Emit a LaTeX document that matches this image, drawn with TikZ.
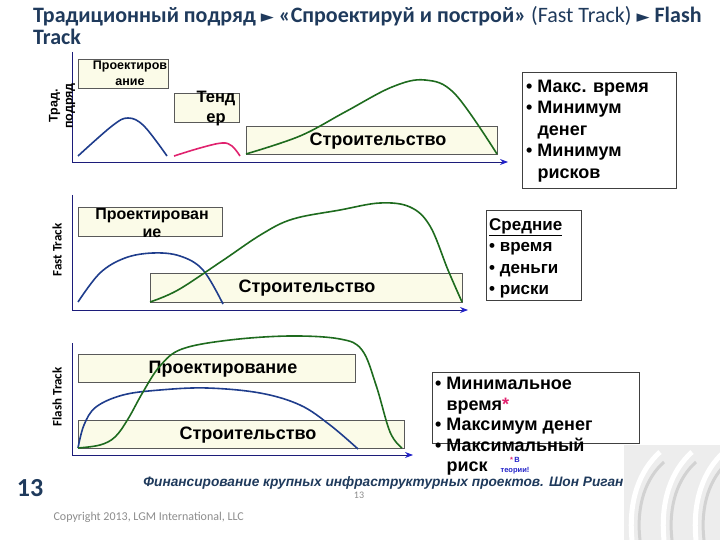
\documentclass[tikz,border=0pt]{standalone}
\usepackage{fontspec}
\setmainfont{Liberation Sans}
\newfontfamily\carlito{Carlito}
\newfontfamily\dejavu{DejaVu Sans}
\usetikzlibrary{arrows.meta}
\definecolor{titleblue}{HTML}{1F3A5C}
\definecolor{axisblue}{HTML}{1C1C7A}
\definecolor{arrowblue}{HTML}{2222C8}
\definecolor{curveblue}{HTML}{1F3D8C}
\definecolor{curvegreen}{HTML}{1E6B1E}
\definecolor{curvepink}{HTML}{E0226E}
\definecolor{boxfill}{HTML}{FBFBE8}
\definecolor{notegray}{HTML}{8C8C8C}
\newcommand{\bigbf}{\bfseries\fontsize{18}{21.5}\selectfont}
\tikzstyle{phase}=[draw=black!65, fill=boxfill, thick, inner sep=0pt]
\tikzstyle{info}=[draw=black!75, thick, inner sep=0pt, anchor=north west]
\tikzstyle{infotext}=[anchor=north west, inner sep=0pt, align=left, font=\bigbf]
\tikzstyle{axis}=[draw=axisblue, thick, ->]
\tikzstyle{curve}=[line width=1.6pt, smooth, tension=0.6]
\tikzstyle{axlabel}=[rotate=90, font=\carlito\bfseries\fontsize{13}{14}\selectfont, align=center]

\begin{document}
\begin{tikzpicture}[x=1pt, y=-1pt, >={Stealth[length=8pt, width=6pt, color=arrowblue]}]
\useasboundingbox (0,0) rectangle (720,540);

% title
\node[anchor=north west, inner sep=0pt, align=left, text=titleblue,
      font=\carlito\bfseries\fontsize{22}{22}\selectfont] (title) at (33,6)
  {Традиционный подряд {\dejavu\fontsize{17}{22}\selectfont ►} «Спроектируй и построй» {\mdseries(Fast Track)} {\dejavu\fontsize{17}{22}\selectfont ►} Flash\\Track};

% --- traditional
\coordinate (top1) at (72,52);
\coordinate (o1) at (72,162);
\coordinate (end1) at (508,162);
\node[phase, minimum width=90, minimum height=29] (design1) at (123,73.5) {};
\node[font=\bfseries\fontsize{12.5}{16}\selectfont, align=center] (design1t) at (130,73.5) {Проектиров\\ание};
\node[phase, minimum width=65, minimum height=29] (tender1) at (206.5,107.5) {};
\node[font=\bfseries\fontsize{16.5}{20}\selectfont, align=center] (tender1t) at (216,109) {Тенд\\ер};
\node[phase, minimum width=251, minimum height=28] (build1) at (371.5,140) {};
\node[font=\bigbf] (build1t) at (378,141) {Строительство};
\draw[curve, curveblue] plot coordinates {(78,156) (112,126) (128,118) (144,126) (167,156)};
\draw[curve, curvepink] plot coordinates {(174,156) (200,148) (222,143) (232,146) (240,156)};
\draw[curve, curvegreen] plot coordinates {(246,154) (300,136) (345,112) (392,87) (425,80) (455,94) (497,154)};
\draw[axis] (top1) -- (o1) -- (end1);
\node[axlabel, font=\bfseries\fontsize{12.5}{15}\selectfont] (lab1) at (62,106) {Трад.\\подряд};
\node[info, minimum width=154, minimum height=116] (info1) at (522,72) {};
\node[infotext] (info1t) at (526,77)
  {\begin{tabular}{@{}l@{ }l@{}}
   \textbullet & Макс. время\\
   \textbullet & Минимум\\
               & денег\\
   \textbullet & Минимум\\
               & рисков
   \end{tabular}};

% --- fast track
\coordinate (top2) at (72,195);
\coordinate (o2) at (72,310);
\coordinate (end2) at (468,310);
\node[phase, minimum width=144, minimum height=29] (design2) at (150,221.5) {};
\node[font=\bfseries\fontsize{16}{18}\selectfont, align=center] (design2t) at (152,223) {Проектирован\\ие};
\node[phase, minimum width=312, minimum height=29] (build2) at (306,287.5) {};
\node[font=\bigbf] (build2t) at (307,288) {Строительство};
\draw[curve, curveblue] plot coordinates {(78,302) (100,273) (125,258) (153,253) (180,256) (203,270) (223,304)};
\draw[curve, curvegreen] plot coordinates {(150,302) (178,290) (222,261) (262,234) (293,219) (340,210) (380,203) (410,207) (430,226) (448,270) (462,302)};
\draw[axis] (top2) -- (o2) -- (end2);
\node[axlabel] (lab2) at (57,250) {Fast Track};
\node[info, minimum width=95, minimum height=90] (info2) at (486,210) {};
\node[infotext, font=\bfseries\fontsize{17}{21.5}\selectfont] (info2t) at (489,218)
  {\underline{Средние}\\
   \textbullet\ время\\
   \textbullet\ деньги\\
   \textbullet\ риски};

% --- flash track
\coordinate (top3) at (72,343);
\coordinate (o3) at (72,455);
\coordinate (end3) at (413,455);
\node[phase, minimum width=277, minimum height=28] (design3) at (216.5,368) {};
\node[font=\bigbf] (design3t) at (223,369) {Проектирование};
\node[phase, minimum width=326, minimum height=28] (build3) at (241,434) {};
\node[font=\bigbf] (build3t) at (248,435) {Строительство};
\draw[curve, curveblue] plot coordinates {(78,448) (84,425) (96,407) (123,395) (160,390) (207,388) (260,393) (300,405) (330,425) (358,449)};
\draw[curve, curvegreen] plot coordinates {(78,448) (100,445) (115,437) (128,419) (143,392) (160,366) (182,349) (230,340) (290,336) (340,339) (362,350) (376,385) (390,432) (402,448)};
\draw[axis] (top3) -- (o3) -- (end3);
\node[axlabel] (lab3) at (57,397) {Flash Track};
\node[info, minimum width=207, minimum height=71] (info3) at (432,372) {};
\node[infotext, font=\bfseries\fontsize{18}{20.5}\selectfont] (info3t) at (435,375)
  {\begin{tabular}{@{}l@{ }l@{}}
   \textbullet & Минимальное\\
               & время{\color{curvepink}*}\\
   \textbullet & Максимум денег\\
   \textbullet & Максимальный\\
               & риск
   \end{tabular}};
\node[font=\bfseries\fontsize{7.5}{10}\selectfont, text=arrowblue, align=center] (note3) at (515,466)
  {{\color{curvepink}*}\,В\\теории!};

% decoration, bottom right
\fill[gray!14] (624,445) rectangle (720,540);
\foreach \dx in {0,32,64} {
  \draw[white, line width=5pt] (632+\dx,540) .. controls (628+\dx,500) and (640+\dx,470) .. (660+\dx,452);
  \draw[gray!35, line width=3pt] (640+\dx,540) .. controls (636+\dx,505) and (646+\dx,478) .. (664+\dx,462);
}

% footer
\node[font=\carlito\bfseries\fontsize{26}{26}\selectfont, text=titleblue] (pageno) at (30,488) {13};
\node[anchor=east, font=\bfseries\itshape\fontsize{13.7}{15}\selectfont, text=titleblue] (footer) at (627,483)
  {Финансирование крупных инфраструктурных проектов. Шон Риган};
\node[font=\carlito\fontsize{10}{12}\selectfont, text=notegray] (pageno2) at (359,495) {13};
\node[anchor=west, font=\carlito\fontsize{12}{13}\selectfont, text=notegray] (copy) at (50,517)
  {Copyright 2013, LGM International, LLC};
\end{tikzpicture}
\end{document}
